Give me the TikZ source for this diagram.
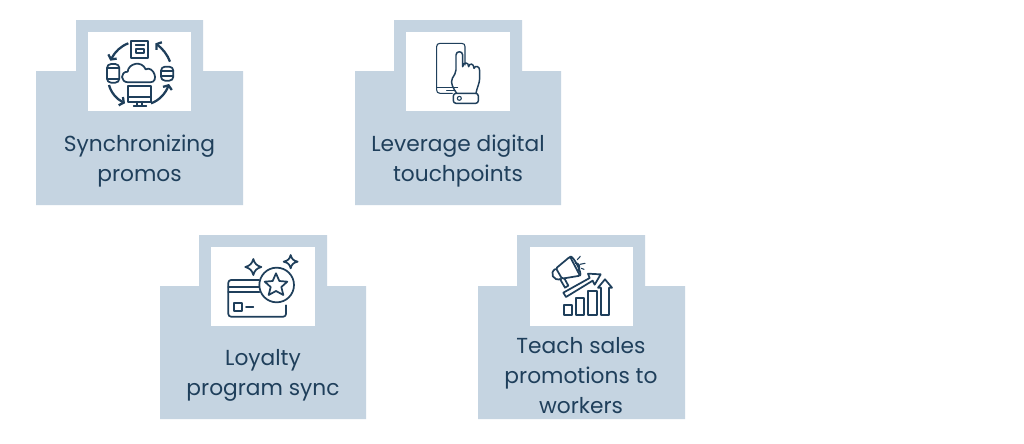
\documentclass[tikz,border=0pt]{standalone}
\usepackage{fontspec}
\usetikzlibrary{arrows.meta}
\setmainfont{Poppins}
\definecolor{cardblue}{HTML}{C5D4E1}
\definecolor{inkblue}{HTML}{1F3F5B}
\tikzset{
  cardpart/.style={fill=cardblue,draw=none},
  iconbox/.style={fill=white,draw=none},
  cardtext/.style={text=inkblue,font=\fontsize{16.3pt}{22.5pt}\selectfont,align=center,inner sep=0pt},
  ink/.style={draw=inkblue,line width=1.3pt,line cap=round,line join=round,fill=none},
  thinink/.style={draw=inkblue,line width=0.8pt,line cap=round,line join=round,fill=none},
  flow/.style={draw=inkblue,line width=1.7pt,-{Straight Barb[length=2.5pt,width=7pt]}},
  zoomed/.style={shift={#1},scale=1/3}
}
\begin{document}
\begin{tikzpicture}[x=0.75pt,y=-0.75pt]
\useasboundingbox (0,0) rectangle (1024,443);
\fill[white] (0,0) rectangle (1024,443);
% cards
\fill[cardpart] (36,71) -- (76,71) -- (76,20) -- (203,20) -- (203,71) -- (243,71) -- (243,205) -- (36,205) -- cycle;
\fill[cardpart] (355,71) -- (394,71) -- (394,20) -- (522,20) -- (522,71) -- (561,71) -- (561,205) -- (355,205) -- cycle;
\fill[cardpart] (160,286) -- (199,286) -- (199,235) -- (327,235) -- (327,286) -- (366,286) -- (366,419) -- (160,419) -- cycle;
\fill[cardpart] (478,286) -- (517,286) -- (517,235) -- (645,235) -- (645,286) -- (685,286) -- (685,419) -- (478,419) -- cycle;
\fill[iconbox] (88,32) rectangle (191,111);
\fill[iconbox] (406,32) rectangle (510,111);
\fill[iconbox] (211,247) rectangle (315,326);
\fill[iconbox] (530,247) rectangle (633,326);
% texts
\node[cardtext] (t1) at (139.5,161) {Synchronizing\\promos};
\node[cardtext] (t2) at (458,161) {Leverage digital\\touchpoints};
\node[cardtext] (t3) at (263,375) {Loyalty\\program sync};
\node[cardtext] (t4) at (581,376) {Teach sales\\promotions to\\workers};
% icon 1
\begin{scope}[zoomed={(85,30)}]
  \draw[ink] (138,32) rectangle (190,85);
  \draw[ink] (152,45) -- (178,45);
  \draw[ink] (152,56) rectangle (178,70);
  \draw[ink] (130,200) -- (130,168) -- (197,168) -- (197,215) -- (130,215) -- cycle;
  \draw[ink] (130,200) -- (197,200);
  \draw[ink] (157,215) -- (157,228) (172,215) -- (172,228) (146,229) -- (184,229);
  \draw[ink,rounded corners=3pt] (66,102) rectangle (103,158);
  \draw[ink] (66,115) -- (103,115) (66,146) -- (103,146);
  \draw[ink,rounded corners=3pt] (228,110) rectangle (265,152);
  \draw[ink] (228,124) -- (265,124) (228,138) -- (265,138);
  \draw[ink] (130,157) .. controls (105,157) and (105,125) .. (128,125)
     .. controls (130,100) and (170,90) .. (182,118)
     .. controls (205,105) and (225,157) .. (195,157) -- cycle;
  \draw[flow] (130,40) .. controls (108,48) and (90,65) .. (76,92);
  \draw[flow] (255,95) .. controls (248,75) and (232,55) .. (211,40);
  \draw[flow] (72,165) .. controls (78,188) and (95,207) .. (120,220);
  \draw[flow] (198,220) .. controls (222,212) and (242,190) .. (252,162);
\end{scope}
% icon 2
\begin{scope}[zoomed={(390,20)}]
  \draw[thinink] (187,220) -- (150,220) .. controls (143,220) and (140,216) .. (140,210) -- (140,80) .. controls (140,74) and (143,70) .. (150,70) -- (215,70) .. controls (222,70) and (225,74) .. (225,80) -- (225,135);
  \draw[thinink] (140,202) -- (203,202);
  \draw[thinink] (170,211) -- (195,211);
  \draw[thinink,line width=1.1pt] (200,220) .. controls (190,205) and (180,190) .. (187,175) .. controls (192,165) and (198,160) .. (198,150) -- (198,105) .. controls (198,92) and (218,92) .. (218,105) -- (218,140)
    (218,140) .. controls (220,125) and (236,125) .. (236,140)
    (236,140) .. controls (238,128) and (252,130) .. (252,145)
    (252,145) .. controls (256,135) and (269,138) .. (269,152) -- (269,175) .. controls (269,190) and (260,205) .. (258,220);
  \draw[thinink,line width=1.1pt,rounded corners=2pt] (190,220) rectangle (265,250);
  \draw[thinink] (208,235) circle (6);
\end{scope}
% icon 3
\begin{scope}[zoomed={(200,235)}]
  \draw[ink,rounded corners=2pt] (177,135) -- (85,135) -- (85,245) -- (258,245) -- (258,211);
  \draw[ink] (85,155) -- (176,155) (85,172) -- (178,172);
  \draw[ink] (103,205) rectangle (125,228);
  \draw[ink] (138,216) -- (160,216);
  \draw[ink] (230,150) circle (52);
  \draw[ink] (228,115) -- (238,138) -- (262,140) -- (244,156) -- (250,180) -- (228,168) -- (206,180) -- (212,156) -- (194,140) -- (218,138) -- cycle;
  \draw[ink] (160,72) .. controls (164,86) and (170,92) .. (184,96) .. controls (170,100) and (164,106) .. (160,120) .. controls (156,106) and (150,100) .. (136,96) .. controls (150,92) and (156,86) .. (160,72) -- cycle;
  \draw[ink] (272,60) .. controls (275,72) and (280,77) .. (293,80) .. controls (280,83) and (275,88) .. (272,100) .. controls (269,88) and (264,83) .. (251,80) .. controls (264,77) and (269,72) .. (272,60) -- cycle;
\end{scope}
% icon 4
\begin{scope}[zoomed={(520,235)}]
  \draw[ink] (131,210) rectangle (155,240);
  \draw[ink] (168,188) rectangle (192,240);
  \draw[ink] (205,168) rectangle (230,240);
  \draw[ink] (243,240) -- (243,158) -- (234,158) -- (255,133) -- (276,158) -- (267,158) -- (267,240) -- cycle;
  \draw[ink] (130,173) -- (209,129) -- (204,116) -- (242,118) -- (224,149) -- (218,137) -- (138,186) -- cycle;
  \draw[ink,rounded corners=1pt] (108,100) -- (150,65) -- (180,122) -- (126,131) -- cycle;
  \draw[ink] (150,65) .. controls (158,58) and (188,115) .. (180,122);
  \draw[ink] (106,102) .. controls (88,112) and (98,140) .. (124,132);
  \draw[ink] (120,132) -- (135,158) -- (145,152) -- (133,130);
  \draw[ink] (166,84) .. controls (178,84) and (182,98) .. (174,106);
  \draw[thinink] (172,74) -- (181,64) (180,88) -- (195,85) (184,100) -- (192,103);
\end{scope}
\end{tikzpicture}
\end{document}
